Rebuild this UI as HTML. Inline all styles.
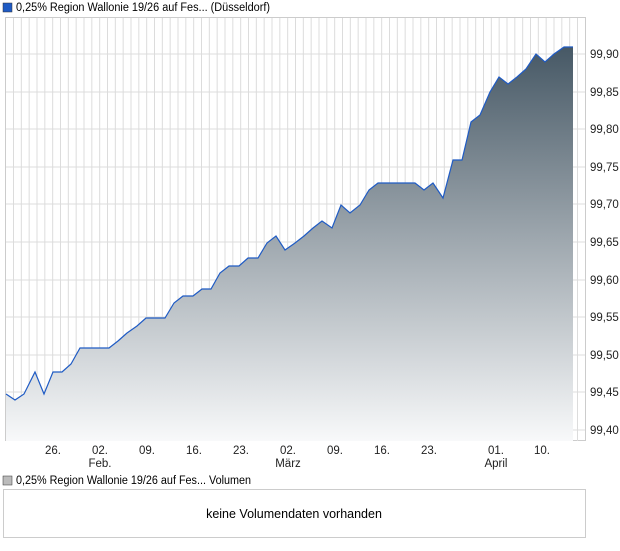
<!DOCTYPE html>
<html><head><meta charset="utf-8"><style>
body{margin:0;background:#fff;font-family:"Liberation Sans",sans-serif;}
</style></head><body>
<svg width="620" height="546" xmlns="http://www.w3.org/2000/svg" font-family="Liberation Sans, sans-serif" font-size="11.5">
<defs>
<linearGradient id="g" gradientUnits="userSpaceOnUse" x1="0" y1="46" x2="0" y2="441">
<stop offset="0" stop-color="#465865"/><stop offset="0.5" stop-color="#a0a9b0"/><stop offset="1" stop-color="#f8f9fa"/></linearGradient>
</defs>
<rect x="3" y="3" width="9" height="9" fill="#1f5bc4" stroke="#333" stroke-width="0.5"/>
<text x="16" y="11" textLength="254" lengthAdjust="spacingAndGlyphs">0,25% Region Wallonie 19/26 auf Fes... (Düsseldorf)</text>
<rect x="5.5" y="17.5" width="580" height="423" fill="#fff" stroke="#ccc"/>
<g stroke="#dcdcdc" stroke-width="1" id="vg"></g>
<g stroke="#dcdcdc">
<line x1="6" y1="54" x2="585" y2="54"/><line x1="6" y1="92" x2="585" y2="92"/><line x1="6" y1="129" x2="585" y2="129"/><line x1="6" y1="167" x2="585" y2="167"/><line x1="6" y1="204" x2="585" y2="204"/><line x1="6" y1="242" x2="585" y2="242"/><line x1="6" y1="280" x2="585" y2="280"/><line x1="6" y1="317" x2="585" y2="317"/><line x1="6" y1="355" x2="585" y2="355"/><line x1="6" y1="392" x2="585" y2="392"/><line x1="6" y1="430" x2="585" y2="430"/>
</g>
<polygon fill="url(#g)" points="6,394 15,400 24,394 35,372 44,394 53,372 62,372 71,364 80,348 90,348 100,348 109,348 118,341 127,333 137,326 146,318 155,318 165,318 174,303 183,296 193,296 202,289 211,289 220,273 229,266 239,266 248,258 258,258 267,243 276,236 285,250 295,243 304,236 313,228 322,221 332,228 341,205 350,213 360,205 369,190 378,183 388,183 397,183 406,183 415,183 424,190 433,183 443,198 453,160 462,160 471,122 480,115 490,92 499,77 508,84 517,77 526,69 536,54 545,62 554,54 564,47 573,47 573,441 6,441"/>
<polyline fill="none" stroke="#1f5bc4" stroke-width="1.2" points="6,394 15,400 24,394 35,372 44,394 53,372 62,372 71,364 80,348 90,348 100,348 109,348 118,341 127,333 137,326 146,318 155,318 165,318 174,303 183,296 193,296 202,289 211,289 220,273 229,266 239,266 248,258 258,258 267,243 276,236 285,250 295,243 304,236 313,228 322,221 332,228 341,205 350,213 360,205 369,190 378,183 388,183 397,183 406,183 415,183 424,190 433,183 443,198 453,160 462,160 471,122 480,115 490,92 499,77 508,84 517,77 526,69 536,54 545,62 554,54 564,47 573,47"/>
<g fill="#222" text-anchor="start">
<text x="590" y="58">99,90</text><text x="590" y="96">99,85</text><text x="590" y="133">99,80</text><text x="590" y="171">99,75</text><text x="590" y="208">99,70</text><text x="590" y="246">99,65</text><text x="590" y="284">99,60</text><text x="590" y="321">99,55</text><text x="590" y="359">99,50</text><text x="590" y="396">99,45</text><text x="590" y="434">99,40</text>
</g>
<g fill="#222" text-anchor="middle">
<text x="53" y="454">26.</text><text x="100" y="454">02.</text><text x="147" y="454">09.</text><text x="194" y="454">16.</text><text x="241" y="454">23.</text><text x="288" y="454">02.</text><text x="335" y="454">09.</text><text x="382" y="454">16.</text><text x="429" y="454">23.</text><text x="496" y="454">01.</text><text x="542" y="454">10.</text>
<text x="100" y="467">Feb.</text><text x="288" y="467">März</text><text x="496" y="467">April</text>
</g>
<rect x="3" y="476" width="9" height="9" fill="#bbb" stroke="#333" stroke-width="0.5"/>
<text x="16" y="484" textLength="235" lengthAdjust="spacingAndGlyphs">0,25% Region Wallonie 19/26 auf Fes... Volumen</text>
<rect x="3.5" y="489.5" width="582" height="48" fill="#fff" stroke="#ccc"/>
<text x="294" y="518" text-anchor="middle" font-size="12.5">keine Volumendaten vorhanden</text>
</svg>
<script>
var g=document.getElementById('vg'),s='';
for(var x=13.5;x<585;x+=47/6){s+='<line x1="'+x+'" y1="18" x2="'+x+'" y2="441"/>';}
g.innerHTML=s;
</script>
</body></html>
